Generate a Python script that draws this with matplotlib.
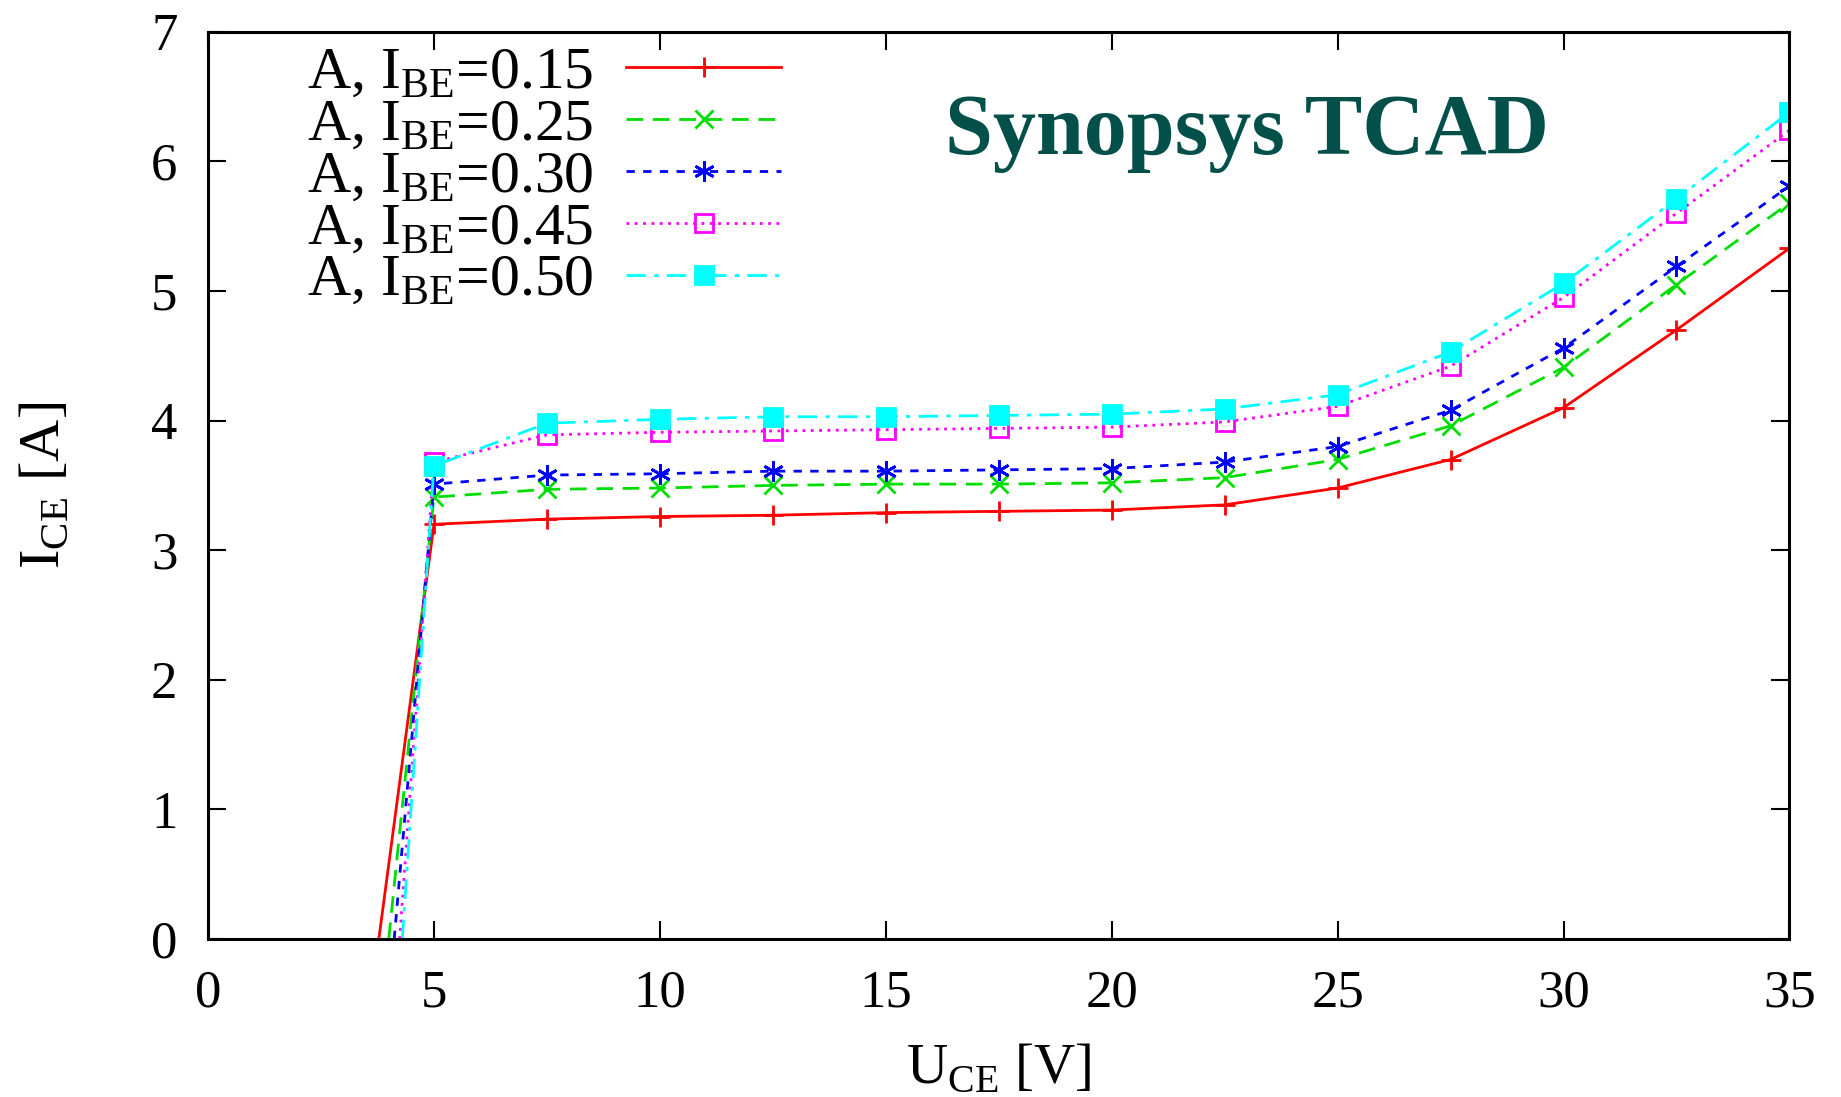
import matplotlib
matplotlib.use("Agg")
from matplotlib import pyplot as plt

plt.rcParams['font.family'] = ['Liberation Serif', 'DejaVu Serif']
plt.rcParams['mathtext.fontset'] = 'custom'
plt.rcParams['mathtext.rm'] = 'Liberation Serif'

# U_CE [V] sample points (first point = zero crossing for each curve)
x_common = [5, 7.5, 10, 12.5, 15, 17.5, 20, 22.5, 25, 27.5, 30, 32.5, 35]
x_start = [3.78, 4.0, 4.12, 4.24, 4.3]

ibe_labels = ["0.15", "0.25", "0.30", "0.45", "0.50"]

ice_015 = [3.20, 3.24, 3.26, 3.27, 3.29, 3.30, 3.31, 3.35, 3.48, 3.70, 4.10, 4.70, 5.33]
ice_025 = [3.41, 3.47, 3.48, 3.50, 3.51, 3.51, 3.52, 3.56, 3.70, 3.96, 4.41, 5.05, 5.68]
ice_030 = [3.51, 3.58, 3.59, 3.61, 3.61, 3.62, 3.63, 3.68, 3.80, 4.08, 4.56, 5.19, 5.81]
ice_045 = [3.68, 3.89, 3.91, 3.92, 3.93, 3.94, 3.95, 3.99, 4.11, 4.42, 4.95, 5.60, 6.24]
ice_050 = [3.65, 3.98, 4.01, 4.03, 4.03, 4.04, 4.05, 4.09, 4.20, 4.53, 5.06, 5.71, 6.38]
series = [ice_015, ice_025, ice_030, ice_045, ice_050]

colors = ['#ff0000', '#00dd00', '#0000ff', '#ff00ff', '#00ffff']
styles = ['-', (0, (6, 3.5)), (0, (3, 3)), (0, (1, 2)), (0, (7, 3, 1.5, 3))]
markers = ['+', 'x', (6, 2, 0), 's', 's']
mfaces = ['none', 'none', 'none', 'none', '#00ffff']
msizes = [14, 13, 15, 13, 13]

fig = plt.figure(figsize=(18.41, 10.97), dpi=100)
ax = fig.add_axes([0.113, 0.144, 0.859, 0.827])

for i in range(5):
    xs = [x_start[i]] + x_common
    ys = [0.0] + series[i]
    ax.plot(xs, ys, color=colors[i], linestyle=styles[i], linewidth=2.0,
            marker=markers[i], markersize=msizes[i], markerfacecolor=mfaces[i],
            markeredgecolor=colors[i], markeredgewidth=2.0, markevery=list(range(1, len(xs))),
            label=r'A, I$_{\mathrm{BE}}$=' + ibe_labels[i])

ax.set_xlim(0, 35)
ax.set_ylim(0, 7)
ax.set_xticks(range(0, 36, 5))
ax.set_yticks(range(0, 8))
ax.tick_params(direction='in', length=13, width=1.5, top=True, right=True,
               labelsize=38, pad=22)
for s in ax.spines.values():
    s.set_linewidth(2.2)

ax.set_xlabel(r'U$_{\mathrm{CE}}$ [V]', fontsize=41, labelpad=18)
ax.set_ylabel(r'I$_{\mathrm{CE}}$ [A]', fontsize=42, labelpad=58)

ax.text(0.466, 0.888, 'Synopsys TCAD', transform=ax.transAxes, fontsize=62,
        fontweight='bold', color='#03504b', ha='left', va='center')

leg = ax.legend(loc='upper left', bbox_to_anchor=(0.036, 1.03), frameon=False,
                markerfirst=False, fontsize=43, handlelength=2.6,
                labelspacing=-0.05, handletextpad=0.55, borderpad=0.2)

fig.savefig('out.png', dpi=100)
